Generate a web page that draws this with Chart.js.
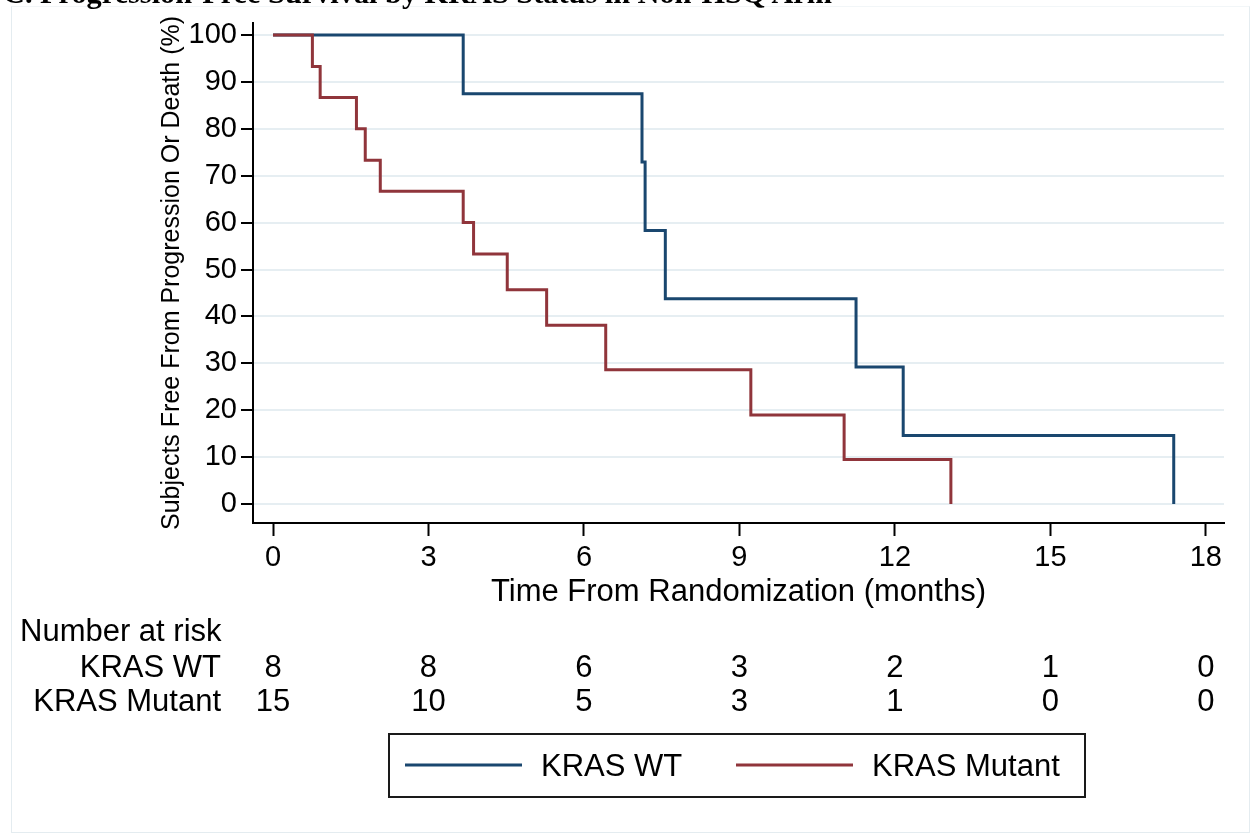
<!DOCTYPE html>
<html><head><meta charset="utf-8">
<script src="https://cdn.jsdelivr.net/npm/chart.js@4.4.1/dist/chart.umd.min.js"></script>
<style>
html,body{margin:0;padding:0;background:#fff;}
#wrap{position:relative;width:1254px;height:835px;overflow:hidden;background:#fff;}
#frame{position:absolute;left:11px;top:6px;width:1239px;height:827px;border:1.5px solid #e4ecf0;border-top-color:#f2f6f8;box-sizing:border-box;}
#title{position:absolute;left:3px;top:-21px;font-family:'Liberation Serif','Times New Roman',serif;font-weight:bold;font-size:29px;line-height:29px;white-space:nowrap;color:#000;}
canvas{position:absolute;left:0;top:0;}
</style></head><body>
<div id="wrap"><div id="frame"></div><canvas id="c" width="1254" height="835"></canvas><div id="title"></div></div>
<script>
// ---- data ----
const titleText = 'C. Progression-Free Survival by KRAS Status in Non-HSQ Arm';
const xTitle = 'Time From Randomization (months)';
const yTitle = 'Subjects Free From Progression Or Death (%)';
const xTicks = [0, 3, 6, 9, 12, 15, 18];
const yTicks = [0, 10, 20, 30, 40, 50, 60, 70, 80, 90, 100];
const groupNames = ['KRAS WT', 'KRAS Mutant'];
const wtTimes = [0, 3.67, 7.12, 7.18, 7.57, 11.25, 12.16, 17.38];
const wtSurv  = [100, 87.5, 72.9, 58.3, 43.75, 29.2, 14.6, 0];
const mutTimes = [0, 0.76, 0.91, 1.61, 1.78, 2.07, 3.67, 3.87, 4.52, 5.28, 6.42, 9.22, 11.02, 13.08];
const mutSurv  = [100, 93.3, 86.7, 80.0, 73.3, 66.7, 60.0, 53.3, 45.7, 38.1, 28.6, 19.0, 9.5, 0];
const riskHeader = 'Number at risk';
const riskTimes = [0, 3, 6, 9, 12, 15, 18];
const riskWT  = [8, 8, 6, 3, 2, 1, 0];
const riskMut = [15, 10, 5, 3, 1, 0, 0];

// ---- title (cut at top like the reference) ----
const tEl = document.getElementById('title');
tEl.textContent = titleText;
const mc = document.createElement('canvas').getContext('2d');
mc.font = "bold 30px 'Liberation Serif'";
const tfs = 30 * 832 / mc.measureText(titleText).width;
tEl.style.fontSize = tfs.toFixed(1) + 'px';

const BLUE = '#1a476f', RED = '#90353b';
const FONT = "'Liberation Sans', Arial, Helvetica, sans-serif";
Chart.defaults.font.family = FONT;
Chart.defaults.color = '#000';

const toPts = (t, s) => t.map((x, i) => ({ x: x, y: s[i] }));

const riskPlugin = {
  id: 'riskTable',
  afterDraw(chart) {
    const c = chart.ctx, xs = chart.scales.x;
    c.save();
    c.fillStyle = '#000';
    c.font = '31px ' + FONT;
    c.textBaseline = 'alphabetic';
    c.textAlign = 'left';
    c.fillText(riskHeader, 20, 641);
    c.textAlign = 'right';
    c.fillText(groupNames[0], 221, 677);
    c.fillText(groupNames[1], 221, 711);
    c.textAlign = 'center';
    riskTimes.forEach((t, i) => {
      const px = xs.getPixelForValue(t);
      c.fillText(String(riskWT[i]), px, 677);
      c.fillText(String(riskMut[i]), px, 711);
    });
    // legend box
    c.lineWidth = 2;
    c.strokeStyle = '#1a1a1a';
    c.strokeRect(389, 734, 696, 63);
    const ds = chart.data.datasets;
    const items = [{ x0: 405, tx: 541 }, { x0: 736, tx: 872 }];
    items.forEach((it, i) => {
      c.strokeStyle = ds[i].borderColor;
      c.lineWidth = 3;
      c.beginPath(); c.moveTo(it.x0, 765); c.lineTo(it.x0 + 117, 765); c.stroke();
      c.textAlign = 'left';
      c.fillStyle = '#000';
      c.fillText(ds[i].label, it.tx, 776);
    });
    c.restore();
  }
};

new Chart(document.getElementById('c'), {
  type: 'line',
  data: {
    datasets: [
      { label: groupNames[0], data: toPts(wtTimes, wtSurv), borderColor: BLUE, backgroundColor: BLUE,
        borderWidth: 3, stepped: true, pointRadius: 0, fill: false, order: 1 },
      { label: groupNames[1], data: toPts(mutTimes, mutSurv), borderColor: RED, backgroundColor: RED,
        borderWidth: 3, stepped: true, pointRadius: 0, fill: false, order: 0 }
    ]
  },
  options: {
    responsive: false,
    animation: false,
    events: [],
    layout: { padding: { left: 0, top: 23, right: 30, bottom: 223 } },
    plugins: { legend: { display: false }, tooltip: { enabled: false }, title: { display: false } },
    scales: {
      x: {
        type: 'linear', min: -0.386, max: 18.35,
        afterBuildTicks: a => { a.ticks = xTicks.map(v => ({ value: v })); },
        afterFit: s => { s.height = 89; },
        grid: { drawOnChartArea: false, drawTicks: true, tickLength: 13, tickColor: '#000', tickWidth: 2 },
        border: { display: true, color: '#000', width: 2 },
        ticks: { color: '#000', font: { size: 29 }, padding: 5, maxRotation: 0, autoSkip: false },
        title: { display: true, text: xTitle, color: '#000', font: { size: 31, lineHeight: 1.2 }, padding: { top: 0, bottom: 1 } }
      },
      y: {
        type: 'linear', min: -4.05, max: 102.56,
        afterBuildTicks: a => { a.ticks = yTicks.map(v => ({ value: v })); },
        afterFit: s => { s.width = 253; },
        grid: { drawOnChartArea: true, color: '#e6eef2', lineWidth: 2, drawTicks: true, tickLength: 12, tickColor: '#000', tickWidth: 2 },
        border: { display: true, color: '#000', width: 2 },
        ticks: { color: '#000', font: { size: 29 }, padding: 4, autoSkip: false },
        title: { display: true, text: yTitle, color: '#000', font: { size: 25, lineHeight: 1.2 }, padding: { top: 157, bottom: 0 } }
      }
    }
  },
  plugins: [riskPlugin]
});
</script>
</body></html>
